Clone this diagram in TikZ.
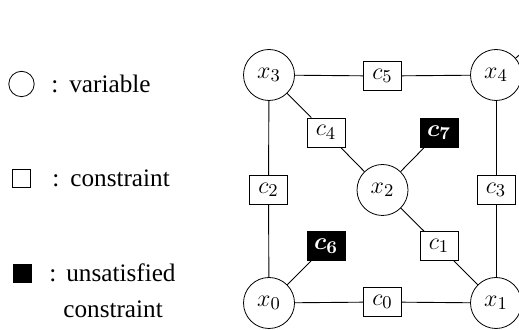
\documentclass[tikz,border=0pt]{standalone}
\usepackage{fontspec}
\usepackage{bm}
\setmainfont{Liberation Serif}
\begin{document}
\begin{tikzpicture}[x=0.5pt,y=-0.5pt,
  var/.style={draw,circle,minimum size=25.5pt,inner sep=0pt,font=\fontsize{12.5}{14}\selectfont},
  con/.style={draw,rectangle,minimum width=19pt,minimum height=14.5pt,inner sep=0pt,font=\fontsize{12.5}{14}\selectfont},
  bad/.style={con,fill=black,text=white},
  lab/.style={anchor=base west,inner sep=0pt,font=\fontsize{12.6}{15}\selectfont},
  edge/.style={draw,line width=0.45pt}]
\useasboundingbox (0,0) rectangle (519,330);
\clip (0,0) rectangle (519,330);
% legend
\node[draw,circle,minimum size=12.7pt,inner sep=0pt] (lv) at (21.5,84) {};
\node[lab] (tv) at (51,93) {:\hspace{5.5pt}variable};
\node[draw,rectangle,minimum size=9pt,inner sep=0pt] (lc) at (21.5,178) {};
\node[lab] (tc) at (52,187) {:\hspace{5.5pt}constraint};
\node[draw,fill=black,rectangle,minimum size=9pt,inner sep=0pt] (lu) at (22,273.5) {};
\node[lab] (tu) at (49,282) {:\hspace{5pt}unsatisfied};
\node[lab] (tu2) at (63,318) {constraint};
% variables
\node[var] (x3) at (269,75) {$x_3$};
\node[var] (x4) at (496,75) {$x_4$};
\node[var] (x2) at (382.5,190) {$x_2$};
\node[var] (x0) at (269,303) {$x_0$};
\node[var] (x1) at (496,303) {$x_1$};
% constraints
\node[con] (c5) at (382.5,76) {$c_5$};
\node[con] (c4) at (326,132.5) {$c_4$};
\node[bad] (c7) at (439,132.5) {$\bm{c_7}$};
\node[con] (c2) at (268.5,190) {$c_2$};
\node[con] (c3) at (496,190) {$c_3$};
\node[bad] (c6) at (326,246) {$\bm{c_6}$};
\node[con] (c1) at (439,246) {$c_1$};
\node[con] (c0) at (382.5,302) {$c_0$};
\coordinate (out) at (560,20);
% edges
\draw[edge] (x3) -- (c5) -- (x4);
\draw[edge] (x3) -- (c4) -- (x2) -- (c7);
\draw[edge] (x3) -- (c2) -- (x0);
\draw[edge] (x4) -- (c3) -- (x1);
\draw[edge] (x0) -- (c0) -- (x1);
\draw[edge] (x0) -- (c6);
\draw[edge] (x2) -- (c1) -- (x1);
\draw[edge] (x4) -- (out);
\end{tikzpicture}
\end{document}
